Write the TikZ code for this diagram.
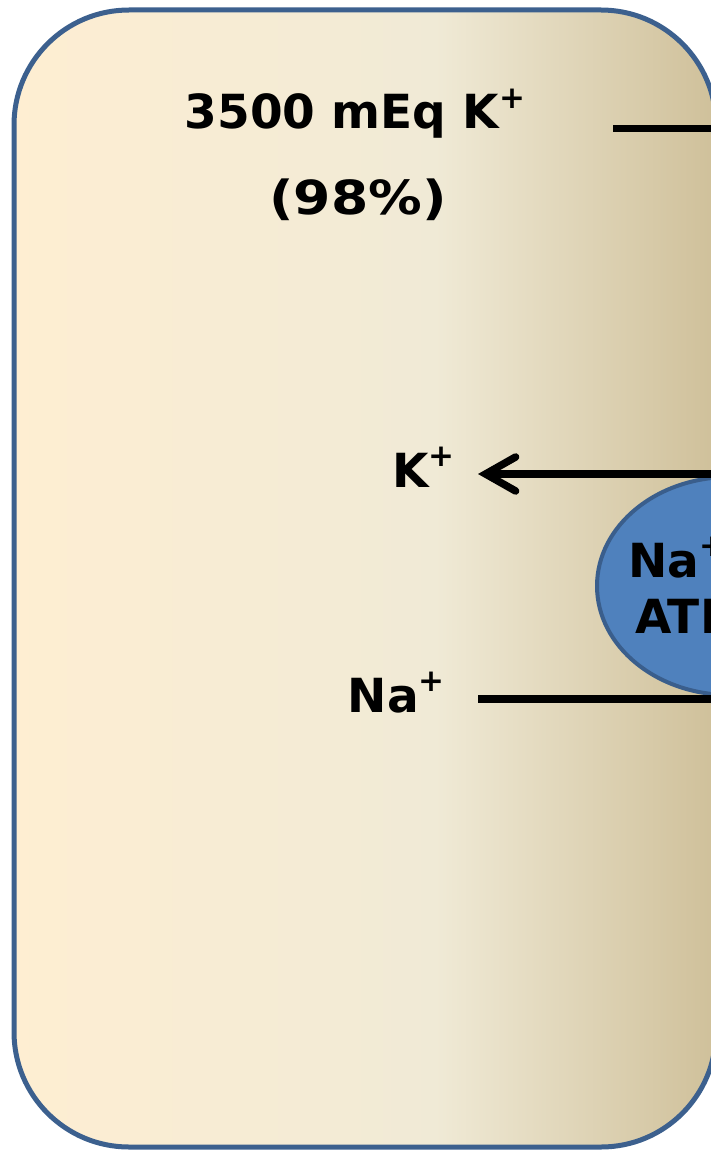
\documentclass[tikz,border=0pt]{standalone}
\usepackage{fontspec}
\setmainfont{DejaVu Sans}
\usetikzlibrary{arrows.meta,shapes.geometric}
\definecolor{cellA}{RGB}{254,238,210}
\definecolor{cellB}{RGB}{240,234,214}
\definecolor{cellC}{RGB}{207,192,154}
\definecolor{edgeblue}{RGB}{60,96,142}
\definecolor{pumpfill}{RGB}{79,129,189}
\definecolor{pumpedge}{RGB}{58,94,140}
\pgfdeclarehorizontalshading{cellshade}{100bp}{color(0bp)=(cellA); color(25bp)=(cellA); color(55bp)=(cellB); color(75bp)=(cellC); color(100bp)=(cellC)}
\newcommand\ionplus{\raisebox{0.44em}{\fontsize{31}{31}\selectfont +}}
\tikzset{
  lbl/.style={font=\fontsize{47}{56}\selectfont\bfseries, inner sep=0pt, text=black},
  ionline/.style={line width=7.5pt, draw=black},
  pumpshape/.style={ellipse, draw=pumpedge, fill=pumpfill, line width=4pt, minimum width=266pt, minimum height=218pt, inner sep=0pt},
}
\begin{document}
\begin{tikzpicture}[x=1pt,y=-1pt]
\useasboundingbox (0,0) rectangle (711,1150);
\clip (0,0) rectangle (711,1150);
% cell
\path[shade, shading=cellshade, draw=edgeblue, line width=5pt, rounded corners=115pt] (14,10) rectangle (716,1147);
% pump
\node[pumpshape] (pump) at (730,586) {};
\node[lbl, anchor=base west] (pumpA) at (628,577) {Na\ionplus/K\ionplus};
\node[lbl, anchor=base west] (pumpB) at (635,633) {ATPase};
% labels
\node[lbl, anchor=base] (total) at (355,129) {3500 mEq K\ionplus};
\node[lbl, anchor=base] (pct) at (358,215) {\scalebox{1.14}[1]{(98\%)}};
\node[lbl, anchor=base east] (kin) at (455,487) {K\ionplus};
\node[lbl, anchor=base east] (naout) at (445,712) {Na\ionplus};
% connectors
\coordinate (topL) at (613,128.5);
\coordinate (topR) at (760,128.5);
\coordinate (kTip) at (478,474);
\coordinate (kR) at (760,474);
\coordinate (naL) at (478,699);
\coordinate (naR) at (760,699);
\draw[ionline] (topL) -- (topR);
\draw[ionline, -{Straight Barb[length=30pt,width=34pt,line cap=round]}] (kR) -- (kTip);
\draw[ionline] (naL) -- (naR);
\end{tikzpicture}
\end{document}
